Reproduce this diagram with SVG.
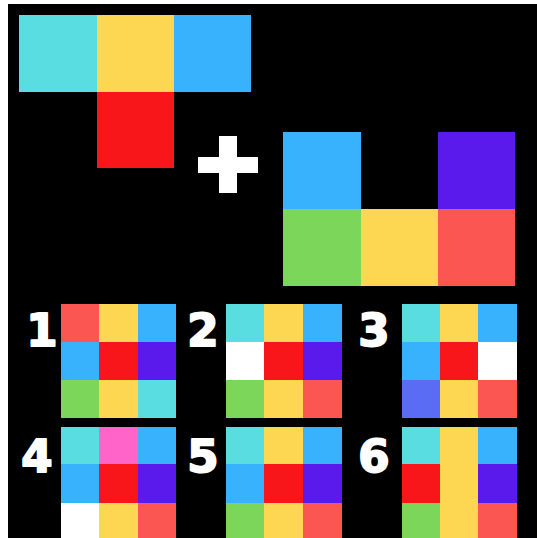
<svg xmlns="http://www.w3.org/2000/svg" width="537" height="538" viewBox="0 0 537 538">
<style>
.cy{fill:#5ADDE0}.ye{fill:#FDD652}.bl{fill:#38B2FD}.rd{fill:#F8161A}.pu{fill:#5A1AEB}.gr{fill:#7CD65A}.sa{fill:#FC5653}.wh{fill:#FFFFFF}.pk{fill:#FF64C8}.pw{fill:#5A6CF4}
.num{font-family:"DejaVu Sans",sans-serif;font-weight:bold;font-size:45px;fill:#FFFFFF;stroke:#FFFFFF;stroke-width:2;stroke-linejoin:round;text-anchor:middle}
</style>
<rect x="0" y="0" width="537" height="538" fill="#FFFFFF"/>
<rect x="8" y="4" width="529" height="534" fill="#000000"/>
<g id="t-piece">
<rect class="cy" x="19" y="15" width="78" height="77"/>
<rect class="ye" x="97" y="15" width="77" height="77"/>
<rect class="bl" x="174" y="15" width="77" height="77"/>
<rect class="rd" x="97" y="92" width="77" height="76"/>
</g>
<g id="plus">
<rect class="wh" x="219" y="136" width="18" height="57"/>
<rect class="wh" x="198" y="157" width="60" height="16"/>
</g>
<g id="u-piece">
<rect class="bl" x="283" y="132" width="78" height="77"/>
<rect class="pu" x="438" y="132" width="77" height="77"/>
<rect class="gr" x="283" y="209" width="78" height="77"/>
<rect class="ye" x="361" y="209" width="77" height="77"/>
<rect class="sa" x="438" y="209" width="77" height="77"/>
</g>
<g id="option-1">
<text class="num" x="42" y="346">1</text>
<rect class="sa" x="61" y="304" width="38" height="38"/><rect class="ye" x="99" y="304" width="39" height="38"/><rect class="bl" x="138" y="304" width="38" height="38"/>
<rect class="bl" x="61" y="342" width="38" height="38"/><rect class="rd" x="99" y="342" width="39" height="38"/><rect class="pu" x="138" y="342" width="38" height="38"/>
<rect class="gr" x="61" y="380" width="38" height="38"/><rect class="ye" x="99" y="380" width="39" height="38"/><rect class="cy" x="138" y="380" width="38" height="38"/>
</g>
<g id="option-2">
<text class="num" x="203" y="346">2</text>
<rect class="cy" x="226" y="304" width="38" height="38"/><rect class="ye" x="264" y="304" width="39" height="38"/><rect class="bl" x="303" y="304" width="39" height="38"/>
<rect class="wh" x="226" y="342" width="38" height="38"/><rect class="rd" x="264" y="342" width="39" height="38"/><rect class="pu" x="303" y="342" width="39" height="38"/>
<rect class="gr" x="226" y="380" width="38" height="38"/><rect class="ye" x="264" y="380" width="39" height="38"/><rect class="sa" x="303" y="380" width="39" height="38"/>
</g>
<g id="option-3">
<text class="num" x="374" y="346">3</text>
<rect class="cy" x="402" y="304" width="38" height="38"/><rect class="ye" x="440" y="304" width="38" height="38"/><rect class="bl" x="478" y="304" width="39" height="38"/>
<rect class="bl" x="402" y="342" width="38" height="38"/><rect class="rd" x="440" y="342" width="38" height="38"/><rect class="wh" x="478" y="342" width="39" height="38"/>
<rect class="pw" x="402" y="380" width="38" height="38"/><rect class="ye" x="440" y="380" width="38" height="38"/><rect class="sa" x="478" y="380" width="39" height="38"/>
</g>
<g id="option-4">
<text class="num" x="37" y="472">4</text>
<rect class="cy" x="61" y="427" width="38" height="37"/><rect class="pk" x="99" y="427" width="39" height="37"/><rect class="bl" x="138" y="427" width="38" height="37"/>
<rect class="bl" x="61" y="464" width="38" height="39"/><rect class="rd" x="99" y="464" width="39" height="39"/><rect class="pu" x="138" y="464" width="38" height="39"/>
<rect class="wh" x="61" y="503" width="38" height="35"/><rect class="ye" x="99" y="503" width="39" height="35"/><rect class="sa" x="138" y="503" width="38" height="35"/>
</g>
<g id="option-5">
<text class="num" x="203" y="472">5</text>
<rect class="cy" x="226" y="427" width="38" height="37"/><rect class="ye" x="264" y="427" width="39" height="37"/><rect class="bl" x="303" y="427" width="39" height="37"/>
<rect class="bl" x="226" y="464" width="38" height="39"/><rect class="rd" x="264" y="464" width="39" height="39"/><rect class="pu" x="303" y="464" width="39" height="39"/>
<rect class="gr" x="226" y="503" width="38" height="35"/><rect class="ye" x="264" y="503" width="39" height="35"/><rect class="sa" x="303" y="503" width="39" height="35"/>
</g>
<g id="option-6">
<text class="num" x="374" y="472">6</text>
<rect class="cy" x="402" y="427" width="38" height="37"/><rect class="ye" x="440" y="427" width="38" height="37"/><rect class="bl" x="478" y="427" width="39" height="37"/>
<rect class="rd" x="402" y="464" width="38" height="39"/><rect class="ye" x="440" y="464" width="38" height="39"/><rect class="pu" x="478" y="464" width="39" height="39"/>
<rect class="gr" x="402" y="503" width="38" height="35"/><rect class="ye" x="440" y="503" width="38" height="35"/><rect class="sa" x="478" y="503" width="39" height="35"/>
</g>
<g id="connectors"/>
</svg>
